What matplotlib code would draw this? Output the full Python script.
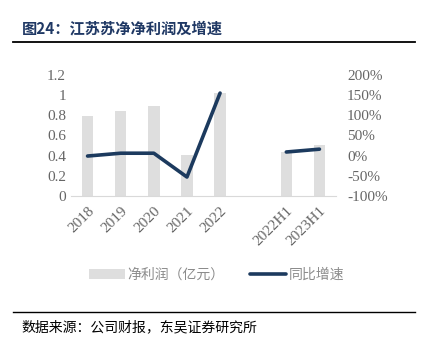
import numpy as np
import matplotlib.pyplot as plt

plt.rcParams['font.family'] = ['Liberation Serif', 'Noto Sans CJK SC']

categories = ['2018', '2019', '2020', '2021', '2022', '', '2022H1', '2023H1']
profit = [0.79, 0.84, 0.89, 0.41, 1.02, np.nan, 0.44, 0.51]
growth = [-1, 6, 6, -53, 155, np.nan, 9, 16]
left_ticks = [0, 0.2, 0.4, 0.6, 0.8, 1, 1.2]
left_labels = ['0', '0.2', '0.4', '0.6', '0.8', '1', '1.2']
right_ticks = [-100, -50, 0, 50, 100, 150, 200]

bar_color = '#dedede'
line_color = '#1c3a5e'
text_gray = '#666666'

fig = plt.figure(figsize=(4.33, 3.51), dpi=100)
ax = fig.add_axes([0.164, 0.4416, 0.612, 0.345])
x = np.arange(len(categories))
ax.bar(x, profit, width=0.35, color=bar_color, label='净利润（亿元）', zorder=1)
ax.set_ylim(0, 1.2)
ax.set_xlim(-0.5, len(categories) - 0.5)
ax.set_yticks(left_ticks)
ax.set_yticklabels(left_labels)
ax.set_xticks(x)
ax.set_xticklabels(categories, rotation=45, ha='right', rotation_mode='anchor')
for s in ['top', 'left', 'right']:
    ax.spines[s].set_visible(False)
ax.spines['bottom'].set_color('#d9d9d9')
ax.tick_params(axis='both', length=0, labelsize=11, colors=text_gray)
ax.tick_params(axis='x', pad=6)

ax2 = ax.twinx()
ax2.plot(x, growth, color=line_color, linewidth=2.6, solid_capstyle='round',
         label='同比增速', zorder=3)
ax2.set_ylim(-100, 200)
ax2.set_yticks(right_ticks)
ax2.set_yticklabels([f'{t}%' for t in right_ticks])
for s in ['top', 'left', 'right', 'bottom']:
    ax2.spines[s].set_visible(False)
ax2.tick_params(axis='y', length=0, labelsize=11, colors=text_gray, pad=8)

h1, l1 = ax.get_legend_handles_labels()
h2, l2 = ax2.get_legend_handles_labels()
fig.legend(h1 + h2, l1 + l2, loc='center', bbox_to_anchor=(0.5, 0.217), ncol=2,
           frameon=False, prop={'family': 'Noto Sans CJK SC', 'size': 10},
           labelcolor='#8c8c8c', handlelength=2.6, columnspacing=1.8, handletextpad=0.2)

fig.text(0.05, 0.92, '图24：江苏苏净净利润及增速', fontsize=11, fontweight='bold',
         color='#1f3864', family='Noto Sans CJK SC', va='center')
fig.add_artist(plt.Line2D([0.03, 0.958], [0.88, 0.88], color='black', linewidth=1.3))
fig.add_artist(plt.Line2D([0.03, 0.958], [0.111, 0.111], color='black', linewidth=1.0))
fig.text(0.05, 0.068, '数据来源：公司财报，东吴证券研究所', fontsize=10,
         color='black', family='Noto Sans CJK SC', va='center')

fig.savefig('out.png', dpi=100)
